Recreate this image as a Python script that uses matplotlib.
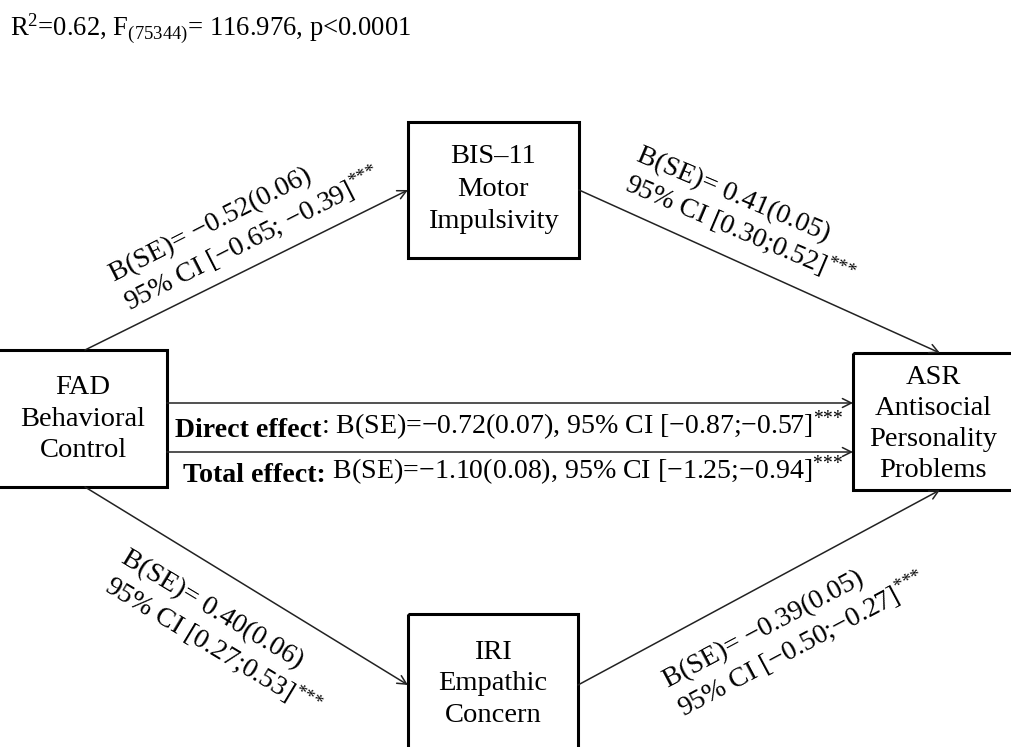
import matplotlib.pyplot as plt
from matplotlib.patches import Rectangle

plt.rcParams['font.family'] = ['Liberation Serif', 'DejaVu Serif']
plt.rcParams['mathtext.fontset'] = 'custom'
plt.rcParams['mathtext.rm'] = 'Liberation Serif'
plt.rcParams['mathtext.it'] = 'Liberation Serif:italic'
plt.rcParams['mathtext.bf'] = 'Liberation Serif:bold'

# model fit
r2 = 0.62
f_df = "75344"
f_val = 116.976
p_txt = "p<0.0001"

# nodes
node_labels = ["FAD\nBehavioral\nControl",
               "BIS\u201311\nMotor\nImpulsivity",
               "IRI\nEmpathic\nConcern",
               "ASR\nAntisocial\nPersonality\nProblems"]

# path coefficients: B, SE, CI low, CI high
path_names = ["a1", "b1", "a2", "b2"]
path_b = [-0.52, 0.41, 0.40, -0.39]
path_se = [0.06, 0.05, 0.06, 0.05]
path_lo = [-0.65, 0.30, 0.27, -0.50]
path_hi = [-0.39, 0.52, 0.53, -0.27]
path_sep = ["; ", ";", ";", ";"]

effect_names = ["Direct effect", "Total effect"]
effect_b = [-0.72, -1.10]
effect_se = [0.07, 0.08]
effect_lo = [-0.87, -1.25]
effect_hi = [-0.57, -0.94]

STARS = r"$^{\text{***}}$"


def num(v):
    return f"{v:.2f}".replace("-", "\u2212")


fig = plt.figure(figsize=(10.12, 7.47), dpi=100)
ax = fig.add_axes([0, 0, 1, 1])
ax.set_xlim(0, 1012)
ax.set_ylim(747, 0)
ax.axis("off")

# top line
ax.text(10, 36, rf"R$^{{2}}$={r2:.2f}, F$_{{({f_df})}}$= {f_val:.3f}, {p_txt}",
        fontsize=19.2, ha="left", va="baseline")

# boxes (x0, y0, w, h) and text centre
boxes = [(-2, 350, 169, 137), (408, 122, 171, 136),
         (408, 614, 170, 150), (853, 353, 161, 137)]
centers = [(83, 419), (493, 189), (493, 684), (933, 424)]
spacing = [1.35, 1.4, 1.35, 1.32]
for (x0, y0, w, h), (cx, cy), lab, ls in zip(boxes, centers, node_labels, spacing):
    ax.add_patch(Rectangle((x0, y0), w, h, fill=False, lw=2.2,
                           edgecolor="black", zorder=3))
    ax.text(cx, cy, lab, ha="center", va="center", fontsize=20.5,
            linespacing=ls, multialignment="center")

arrow = dict(arrowstyle="->", lw=1.1, color="#222222",
             mutation_scale=16, shrinkA=0, shrinkB=0)
segments = [((85, 350), (408, 190)), ((579, 190), (940, 353)),
            ((85, 487), (408, 685)), ((578, 685), (940, 490))]
for start, end in segments:
    ax.annotate("", xy=end, xytext=start, arrowprops=arrow)

# path labels, anchored at start of the second line's baseline
label_pos = [(128, 308), (624, 187), (105, 587), (682, 714)]
label_rot = [27, -23, -31, 28]
for i in range(len(path_names)):
    s = (f"B(SE)= {num(path_b[i])}({path_se[i]:.2f})\n"
         f"95% CI [{num(path_lo[i])}{path_sep[i]}{num(path_hi[i])}]" + STARS)
    ax.text(label_pos[i][0], label_pos[i][1], s, rotation=label_rot[i],
            rotation_mode="anchor", ha="left", va="baseline",
            multialignment="left", fontsize=20, linespacing=1.1)

# direct / total arrows and text
for yy in (403, 452):
    ax.annotate("", xy=(853, yy), xytext=(167, yy), arrowprops=arrow)

eff_x = [175, 183]
eff_y = [443, 488]
for i in range(len(effect_names)):
    bold = ax.text(eff_x[i], eff_y[i], effect_names[i] + (":" if i else ""),
                   fontsize=20.1, fontweight="bold", ha="left", va="bottom")
    rest = (f"{':' if i == 0 else ''} B(SE)={num(effect_b[i])}({effect_se[i]:.2f}), "
            f"95% CI [{num(effect_lo[i])};{num(effect_hi[i])}]" + STARS)
    ax.annotate(rest, xy=(1, 0), xycoords=bold, fontsize=20.1,
                ha="left", va="bottom")

fig.savefig("out.png", dpi=100)
